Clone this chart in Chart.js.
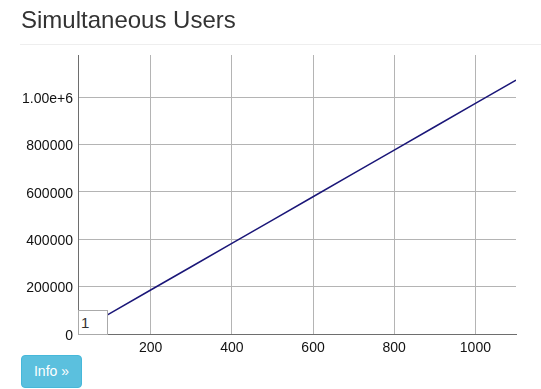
<!DOCTYPE html>
<html>
<head>
<meta charset="utf-8">
<script src="https://cdn.jsdelivr.net/npm/chart.js@4/dist/chart.umd.min.js"></script>
<style>
    body { margin: 0; font-family: "Liberation Sans", Arial, Helvetica, sans-serif; background: #fff; }
    #wrap { position: relative; width: 541px; height: 389px; overflow: hidden; }
    #chart { position: absolute; left: 0; top: 0; }
    h2 { position: absolute; left: 21px; top: 6px; margin: 0; font-size: 24px; font-weight: normal; color: #333; }
    .rule { position: absolute; left: 20px; right: 0; top: 44px; height: 1px; background: #eee; }
    .roller { position: absolute; left: 78px; top: 310px; width: 30px; height: 25px; box-sizing: border-box;
              border: 1px solid #aaa; padding: 0 0 0 2px; font: 15px "Liberation Sans", Arial, sans-serif; color: #333; background: #fff; }
    .btn { position: absolute; left: 21px; top: 355px; width: 61px; height: 33px; box-sizing: border-box;
           background: #5bc0de; border: 1px solid #46b8da; border-radius: 4px; color: #fff;
           font: 14px "Liberation Sans", Arial, sans-serif; text-align: center; line-height: 31px; }
</style>
</head>
<body>
<div id="wrap">
    <canvas id="chart" width="541" height="389"></canvas>
    <h2>Simultaneous Users</h2>
    <div class="rule"></div>
    <input class="roller" type="text" value="1">
    <div class="btn">Info &raquo;</div>
</div>
<script>
// values
const users = [21, 100, 200, 300, 400, 500, 600, 700, 800, 900, 1000, 1100];
const simultaneous = [9200, 87000, 185700, 284000, 382600, 481000, 579500, 678000, 776500, 875000, 973500, 1072000];
const xTicks = [200, 400, 600, 800, 1000];
const yTicks = [0, 200000, 400000, 600000, 800000, 1000000];

function yLabel(v) {
    return v >= 1000000 ? (v / 1000000).toFixed(2) + 'e+6' : String(v);
}

const ctx = document.getElementById('chart').getContext('2d');
new Chart(ctx, {
    type: 'line',
    data: {
        datasets: [{
            label: 'Simultaneous Users',
            data: users.map((x, i) => ({ x: x, y: simultaneous[i] })),
            borderColor: '#1a1678',
            borderWidth: 1.5,
            pointRadius: 0,
            fill: false,
            tension: 0
        }]
    },
    options: {
        responsive: false,
        animation: false,
        layout: { padding: { top: 55, right: 25, bottom: 30, left: 0 } },
        plugins: {
            legend: { display: false },
            tooltip: { enabled: false }
        },
        scales: {
            x: {
                type: 'linear',
                min: 21,
                max: 1100,
                afterBuildTicks: (scale) => { scale.ticks = xTicks.map(v => ({ value: v })); },
                afterFit: (scale) => { scale.height = 25; },
                grid: { color: '#b4b4b4', drawTicks: false },
                border: { color: '#6e6e6e', width: 1 },
                ticks: {
                    padding: 6,
                    color: '#111',
                    font: { family: '"Liberation Sans", Arial, sans-serif', size: 14 },
                    maxRotation: 0,
                    callback: (v) => String(v)
                }
            },
            y: {
                min: 0,
                max: 1178000,
                afterBuildTicks: (scale) => { scale.ticks = yTicks.map(v => ({ value: v })); },
                afterFit: (scale) => { scale.width = 78; },
                grid: { color: '#b4b4b4', drawTicks: false },
                border: { color: '#6e6e6e', width: 1 },
                ticks: {
                    padding: 5,
                    labelOffset: 2,
                    color: '#111',
                    font: { family: '"Liberation Sans", Arial, sans-serif', size: 14 },
                    callback: (v) => yLabel(v)
                }
            }
        }
    }
});
</script>
</body>
</html>
